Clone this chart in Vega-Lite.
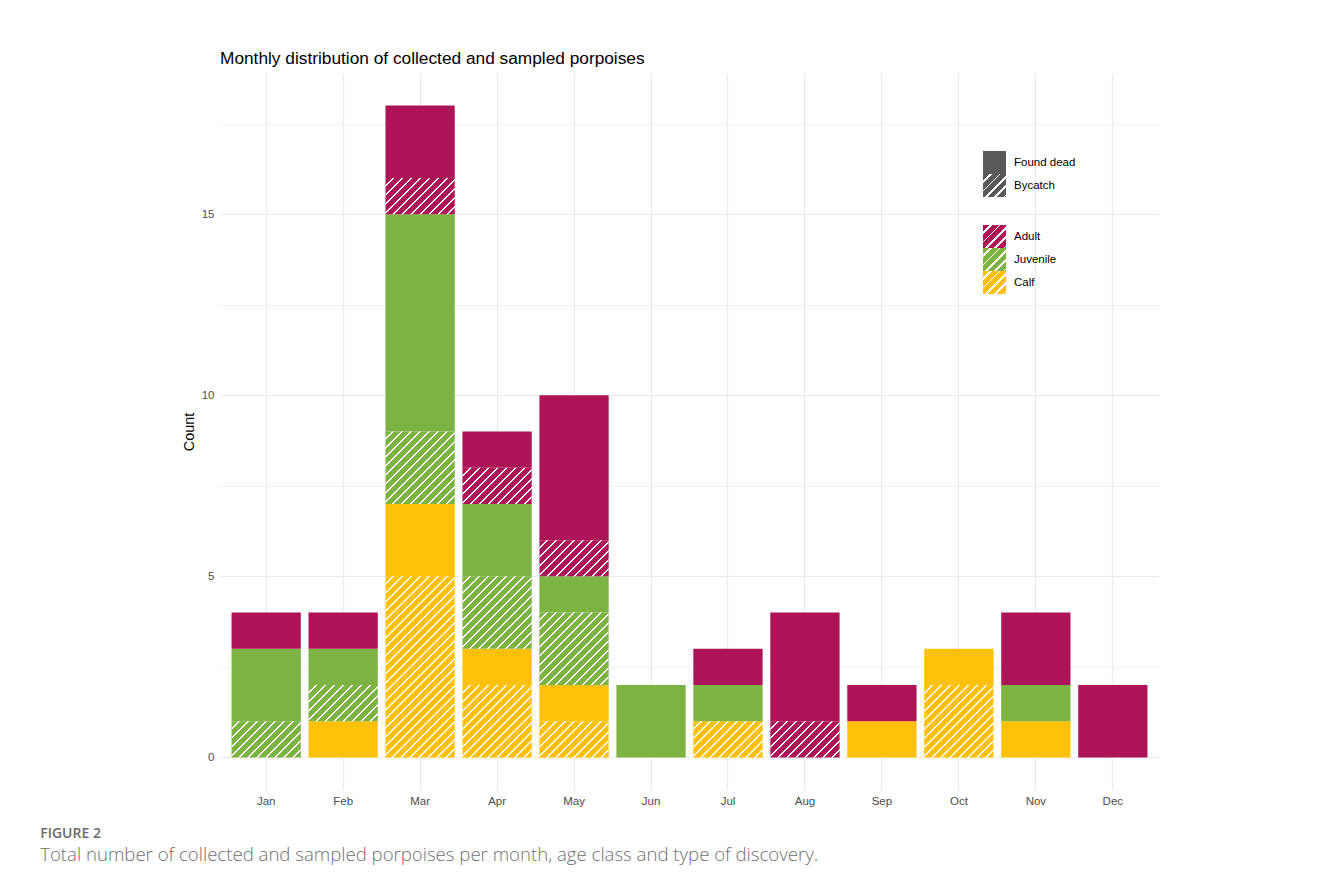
{
  "$schema": "https://vega.github.io/schema/vega-lite/v6.json",
  "background": "#ffffff",
  "padding": {"left": 40, "top": 49, "right": 0, "bottom": 0},
  "params": [
    {
      "name": "hatchStops",
      "value": [
        {"offset": 0, "color": "rgba(255,255,255,0)"}, {"offset": 0.023, "color": "rgba(255,255,255,0)"}, {"offset": 0.023, "color": "#ffffff"}, {"offset": 0.03, "color": "#ffffff"},
        {"offset": 0.03, "color": "rgba(255,255,255,0)"}, {"offset": 0.053, "color": "rgba(255,255,255,0)"}, {"offset": 0.053, "color": "#ffffff"}, {"offset": 0.06, "color": "#ffffff"},
        {"offset": 0.06, "color": "rgba(255,255,255,0)"}, {"offset": 0.083, "color": "rgba(255,255,255,0)"}, {"offset": 0.083, "color": "#ffffff"}, {"offset": 0.09, "color": "#ffffff"},
        {"offset": 0.09, "color": "rgba(255,255,255,0)"}, {"offset": 0.113, "color": "rgba(255,255,255,0)"}, {"offset": 0.113, "color": "#ffffff"}, {"offset": 0.12, "color": "#ffffff"},
        {"offset": 0.12, "color": "rgba(255,255,255,0)"}, {"offset": 0.143, "color": "rgba(255,255,255,0)"}, {"offset": 0.143, "color": "#ffffff"}, {"offset": 0.15, "color": "#ffffff"},
        {"offset": 0.15, "color": "rgba(255,255,255,0)"}, {"offset": 0.173, "color": "rgba(255,255,255,0)"}, {"offset": 0.173, "color": "#ffffff"}, {"offset": 0.18, "color": "#ffffff"},
        {"offset": 0.18, "color": "rgba(255,255,255,0)"}, {"offset": 0.203, "color": "rgba(255,255,255,0)"}, {"offset": 0.203, "color": "#ffffff"}, {"offset": 0.21, "color": "#ffffff"},
        {"offset": 0.21, "color": "rgba(255,255,255,0)"}, {"offset": 0.233, "color": "rgba(255,255,255,0)"}, {"offset": 0.233, "color": "#ffffff"}, {"offset": 0.24, "color": "#ffffff"},
        {"offset": 0.24, "color": "rgba(255,255,255,0)"}, {"offset": 0.263, "color": "rgba(255,255,255,0)"}, {"offset": 0.263, "color": "#ffffff"}, {"offset": 0.27, "color": "#ffffff"},
        {"offset": 0.27, "color": "rgba(255,255,255,0)"}, {"offset": 0.293, "color": "rgba(255,255,255,0)"}, {"offset": 0.293, "color": "#ffffff"}, {"offset": 0.3, "color": "#ffffff"},
        {"offset": 0.3, "color": "rgba(255,255,255,0)"}, {"offset": 0.323, "color": "rgba(255,255,255,0)"}, {"offset": 0.323, "color": "#ffffff"}, {"offset": 0.33, "color": "#ffffff"},
        {"offset": 0.33, "color": "rgba(255,255,255,0)"}, {"offset": 0.353, "color": "rgba(255,255,255,0)"}, {"offset": 0.353, "color": "#ffffff"}, {"offset": 0.36, "color": "#ffffff"},
        {"offset": 0.36, "color": "rgba(255,255,255,0)"}, {"offset": 0.383, "color": "rgba(255,255,255,0)"}, {"offset": 0.383, "color": "#ffffff"}, {"offset": 0.39, "color": "#ffffff"},
        {"offset": 0.39, "color": "rgba(255,255,255,0)"}, {"offset": 0.413, "color": "rgba(255,255,255,0)"}, {"offset": 0.413, "color": "#ffffff"}, {"offset": 0.42, "color": "#ffffff"},
        {"offset": 0.42, "color": "rgba(255,255,255,0)"}, {"offset": 0.443, "color": "rgba(255,255,255,0)"}, {"offset": 0.443, "color": "#ffffff"}, {"offset": 0.45, "color": "#ffffff"},
        {"offset": 0.45, "color": "rgba(255,255,255,0)"}, {"offset": 0.473, "color": "rgba(255,255,255,0)"}, {"offset": 0.473, "color": "#ffffff"}, {"offset": 0.48, "color": "#ffffff"},
        {"offset": 0.48, "color": "rgba(255,255,255,0)"}, {"offset": 0.503, "color": "rgba(255,255,255,0)"}, {"offset": 0.503, "color": "#ffffff"}, {"offset": 0.51, "color": "#ffffff"},
        {"offset": 0.51, "color": "rgba(255,255,255,0)"}, {"offset": 0.533, "color": "rgba(255,255,255,0)"}, {"offset": 0.533, "color": "#ffffff"}, {"offset": 0.54, "color": "#ffffff"},
        {"offset": 0.54, "color": "rgba(255,255,255,0)"}, {"offset": 0.563, "color": "rgba(255,255,255,0)"}, {"offset": 0.563, "color": "#ffffff"}, {"offset": 0.57, "color": "#ffffff"},
        {"offset": 0.57, "color": "rgba(255,255,255,0)"}, {"offset": 0.593, "color": "rgba(255,255,255,0)"}, {"offset": 0.593, "color": "#ffffff"}, {"offset": 0.6, "color": "#ffffff"},
        {"offset": 0.6, "color": "rgba(255,255,255,0)"}, {"offset": 0.623, "color": "rgba(255,255,255,0)"}, {"offset": 0.623, "color": "#ffffff"}, {"offset": 0.63, "color": "#ffffff"},
        {"offset": 0.63, "color": "rgba(255,255,255,0)"}, {"offset": 0.653, "color": "rgba(255,255,255,0)"}, {"offset": 0.653, "color": "#ffffff"}, {"offset": 0.66, "color": "#ffffff"},
        {"offset": 0.66, "color": "rgba(255,255,255,0)"}, {"offset": 0.683, "color": "rgba(255,255,255,0)"}, {"offset": 0.683, "color": "#ffffff"}, {"offset": 0.69, "color": "#ffffff"},
        {"offset": 0.69, "color": "rgba(255,255,255,0)"}, {"offset": 0.713, "color": "rgba(255,255,255,0)"}, {"offset": 0.713, "color": "#ffffff"}, {"offset": 0.72, "color": "#ffffff"},
        {"offset": 0.72, "color": "rgba(255,255,255,0)"}, {"offset": 0.743, "color": "rgba(255,255,255,0)"}, {"offset": 0.743, "color": "#ffffff"}, {"offset": 0.75, "color": "#ffffff"},
        {"offset": 0.75, "color": "rgba(255,255,255,0)"}, {"offset": 0.773, "color": "rgba(255,255,255,0)"}, {"offset": 0.773, "color": "#ffffff"}, {"offset": 0.78, "color": "#ffffff"},
        {"offset": 0.78, "color": "rgba(255,255,255,0)"}, {"offset": 0.803, "color": "rgba(255,255,255,0)"}, {"offset": 0.803, "color": "#ffffff"}, {"offset": 0.81, "color": "#ffffff"},
        {"offset": 0.81, "color": "rgba(255,255,255,0)"}, {"offset": 0.833, "color": "rgba(255,255,255,0)"}, {"offset": 0.833, "color": "#ffffff"}, {"offset": 0.84, "color": "#ffffff"},
        {"offset": 0.84, "color": "rgba(255,255,255,0)"}, {"offset": 1, "color": "rgba(255,255,255,0)"}
      ]
    }
  ],
  "title": {
    "text": "FIGURE 2",
    "subtitle": "Total number of collected and sampled porpoises per month, age class and type of discovery.",
    "orient": "bottom",
    "anchor": "start",
    "frame": "bounds",
    "dx": -141,
    "offset": 20,
    "font": "Open Sans",
    "fontSize": 14,
    "fontWeight": 600,
    "color": "#6b6b6b",
    "subtitleFont": "Open Sans",
    "subtitleFontSize": 18.6,
    "subtitleFontWeight": 300,
    "subtitleColor": "#707070",
    "subtitlePadding": 5
  },
  "vconcat": [
    {
      "title": {
        "text": "Monthly distribution of collected and sampled porpoises",
        "anchor": "start",
        "frame": "group",
        "font": "Liberation Sans",
        "fontSize": 17.3,
        "fontWeight": "normal",
        "color": "#000000",
        "baseline": "alphabetic",
        "offset": -8
      },
      "width": 939,
      "height": 717,
      "data": {
        "values": [
          {"month": "Jan", "age": "Juvenile", "type": "Bycatch", "count": 1},
          {"month": "Jan", "age": "Juvenile", "type": "Found dead", "count": 2},
          {"month": "Jan", "age": "Adult", "type": "Found dead", "count": 1},
          {"month": "Feb", "age": "Calf", "type": "Found dead", "count": 1},
          {"month": "Feb", "age": "Juvenile", "type": "Bycatch", "count": 1},
          {"month": "Feb", "age": "Juvenile", "type": "Found dead", "count": 1},
          {"month": "Feb", "age": "Adult", "type": "Found dead", "count": 1},
          {"month": "Mar", "age": "Calf", "type": "Bycatch", "count": 5},
          {"month": "Mar", "age": "Calf", "type": "Found dead", "count": 2},
          {"month": "Mar", "age": "Juvenile", "type": "Bycatch", "count": 2},
          {"month": "Mar", "age": "Juvenile", "type": "Found dead", "count": 6},
          {"month": "Mar", "age": "Adult", "type": "Bycatch", "count": 1},
          {"month": "Mar", "age": "Adult", "type": "Found dead", "count": 2},
          {"month": "Apr", "age": "Calf", "type": "Bycatch", "count": 2},
          {"month": "Apr", "age": "Calf", "type": "Found dead", "count": 1},
          {"month": "Apr", "age": "Juvenile", "type": "Bycatch", "count": 2},
          {"month": "Apr", "age": "Juvenile", "type": "Found dead", "count": 2},
          {"month": "Apr", "age": "Adult", "type": "Bycatch", "count": 1},
          {"month": "Apr", "age": "Adult", "type": "Found dead", "count": 1},
          {"month": "May", "age": "Calf", "type": "Bycatch", "count": 1},
          {"month": "May", "age": "Calf", "type": "Found dead", "count": 1},
          {"month": "May", "age": "Juvenile", "type": "Bycatch", "count": 2},
          {"month": "May", "age": "Juvenile", "type": "Found dead", "count": 1},
          {"month": "May", "age": "Adult", "type": "Bycatch", "count": 1},
          {"month": "May", "age": "Adult", "type": "Found dead", "count": 4},
          {"month": "Jun", "age": "Juvenile", "type": "Found dead", "count": 2},
          {"month": "Jul", "age": "Calf", "type": "Bycatch", "count": 1},
          {"month": "Jul", "age": "Juvenile", "type": "Found dead", "count": 1},
          {"month": "Jul", "age": "Adult", "type": "Found dead", "count": 1},
          {"month": "Aug", "age": "Adult", "type": "Bycatch", "count": 1},
          {"month": "Aug", "age": "Adult", "type": "Found dead", "count": 3},
          {"month": "Sep", "age": "Calf", "type": "Found dead", "count": 1},
          {"month": "Sep", "age": "Adult", "type": "Found dead", "count": 1},
          {"month": "Oct", "age": "Calf", "type": "Bycatch", "count": 2},
          {"month": "Oct", "age": "Calf", "type": "Found dead", "count": 1},
          {"month": "Nov", "age": "Calf", "type": "Found dead", "count": 1},
          {"month": "Nov", "age": "Juvenile", "type": "Found dead", "count": 1},
          {"month": "Nov", "age": "Adult", "type": "Found dead", "count": 2},
          {"month": "Dec", "age": "Adult", "type": "Found dead", "count": 2}
        ]
      },
      "transform": [
        {"window": [{"op": "row_number", "as": "row"}]}
      ],
      "encoding": {
        "x": {
          "field": "month",
          "type": "nominal",
          "sort": ["Jan", "Feb", "Mar", "Apr", "May", "Jun", "Jul", "Aug", "Sep", "Oct", "Nov", "Dec"],
          "scale": {"paddingInner": 0.1, "paddingOuter": 0.15},
          "axis": {
            "title": null,
            "labelAngle": 0,
            "ticks": false,
            "domain": false,
            "labelPadding": 5,
            "grid": true,
            "bandPosition": 0.5,
            "gridColor": "#ebebeb",
            "gridWidth": 1.2
          }
        },
        "y": {
          "field": "count",
          "type": "quantitative",
          "title": "Count",
          "scale": {"domain": [-0.9, 18.9], "nice": false, "zero": false},
          "axis": {
            "values": [0, 2.5, 5, 7.5, 10, 12.5, 15, 17.5],
            "labelExpr": "datum.value % 5 === 0 ? datum.label : ''",
            "ticks": false,
            "domain": false,
            "labelPadding": 6,
            "titlePadding": 5,
            "grid": true,
            "gridColor": "#ebebeb",
            "gridWidth": {"condition": {"test": "datum.value % 5 !== 0", "value": 0.7}, "value": 1.2}
          }
        },
        "order": {"field": "row", "type": "quantitative"}
      },
      "layer": [
        {
          "mark": {"type": "bar", "strokeWidth": 0},
          "encoding": {
            "color": {
              "field": "age",
              "type": "nominal",
              "sort": ["Adult", "Juvenile", "Calf"],
              "scale": {"range": ["#AD1457", "#7CB342", "#FFC107"]},
              "legend": null
            },
            "stroke": {
              "field": "age",
              "type": "nominal",
              "scale": {"domain": ["Adult", "Juvenile", "Calf"], "range": ["#AD1457", "#7CB342", "#FFC107"]},
              "legend": {
                "orient": "none",
                "legendX": 763,
                "legendY": 152,
                "title": null,
                "symbolType": "square",
                "symbolSize": 529,
                "rowPadding": 0,
                "labelOffset": 8,
                "padding": 0,
                "symbolStrokeWidth": 0,
                "symbolOpacity": 1,
                "symbolFillColor": {"expr": "{gradient:'linear',x1:0,y1:0,x2:1,y2:1,stops:[{offset:0,color:(datum.value==='Adult'?'#AD1457':datum.value==='Juvenile'?'#7CB342':'#FFC107')},{offset:0.152,color:(datum.value==='Adult'?'#AD1457':datum.value==='Juvenile'?'#7CB342':'#FFC107')},{offset:0.152,color:'#ffffff'},{offset:0.196,color:'#ffffff'},{offset:0.196,color:(datum.value==='Adult'?'#AD1457':datum.value==='Juvenile'?'#7CB342':'#FFC107')},{offset:0.348,color:(datum.value==='Adult'?'#AD1457':datum.value==='Juvenile'?'#7CB342':'#FFC107')},{offset:0.348,color:'#ffffff'},{offset:0.391,color:'#ffffff'},{offset:0.391,color:(datum.value==='Adult'?'#AD1457':datum.value==='Juvenile'?'#7CB342':'#FFC107')},{offset:0.543,color:(datum.value==='Adult'?'#AD1457':datum.value==='Juvenile'?'#7CB342':'#FFC107')},{offset:0.543,color:'#ffffff'},{offset:0.587,color:'#ffffff'},{offset:0.587,color:(datum.value==='Adult'?'#AD1457':datum.value==='Juvenile'?'#7CB342':'#FFC107')},{offset:0.739,color:(datum.value==='Adult'?'#AD1457':datum.value==='Juvenile'?'#7CB342':'#FFC107')},{offset:0.739,color:'#ffffff'},{offset:0.783,color:'#ffffff'},{offset:0.783,color:(datum.value==='Adult'?'#AD1457':datum.value==='Juvenile'?'#7CB342':'#FFC107')},{offset:0.935,color:(datum.value==='Adult'?'#AD1457':datum.value==='Juvenile'?'#7CB342':'#FFC107')},{offset:0.935,color:'#ffffff'},{offset:0.978,color:'#ffffff'},{offset:0.978,color:(datum.value==='Adult'?'#AD1457':datum.value==='Juvenile'?'#7CB342':'#FFC107')},{offset:1,color:(datum.value==='Adult'?'#AD1457':datum.value==='Juvenile'?'#7CB342':'#FFC107')}]}"}
              }
            },
            "strokeDash": {
              "field": "type",
              "type": "nominal",
              "scale": {"domain": ["Found dead", "Bycatch"]},
              "legend": {
                "orient": "none",
                "legendX": 763,
                "legendY": 78,
                "title": null,
                "symbolType": "square",
                "symbolSize": 529,
                "rowPadding": 0,
                "labelOffset": 8,
                "padding": 0,
                "symbolStrokeWidth": 0,
                "symbolOpacity": 1,
                "symbolFillColor": {"expr": "datum.value === 'Bycatch' ? {gradient:'linear',x1:0,y1:0,x2:1,y2:1,stops:[{offset:0,color:'#595959'},{offset:0.152,color:'#595959'},{offset:0.152,color:'#ffffff'},{offset:0.196,color:'#ffffff'},{offset:0.196,color:'#595959'},{offset:0.348,color:'#595959'},{offset:0.348,color:'#ffffff'},{offset:0.391,color:'#ffffff'},{offset:0.391,color:'#595959'},{offset:0.543,color:'#595959'},{offset:0.543,color:'#ffffff'},{offset:0.587,color:'#ffffff'},{offset:0.587,color:'#595959'},{offset:0.739,color:'#595959'},{offset:0.739,color:'#ffffff'},{offset:0.783,color:'#ffffff'},{offset:0.783,color:'#595959'},{offset:0.935,color:'#595959'},{offset:0.935,color:'#ffffff'},{offset:0.978,color:'#ffffff'},{offset:0.978,color:'#595959'},{offset:1,color:'#595959'}]} : '#595959'"}
              }
            }
          }
        },
        {
          "mark": {
            "type": "bar",
            "strokeWidth": 0,
            "fill": {"expr": "datum.type === 'Bycatch' ? {gradient: 'linear', x1: 0, y1: 0, x2: 300 * 69.27 / (4798.3 + pow(datum.count * 36.21, 2)), y2: 300 * datum.count * 36.21 / (4798.3 + pow(datum.count * 36.21, 2)), stops: hatchStops} : 'rgba(0,0,0,0)'"}
          },
          "encoding": {}
        }
      ]
    }
  ],
  "config": {
    "view": {"stroke": null},
    "font": "Liberation Sans",
    "axis": {
      "labelFont": "Liberation Sans",
      "labelFontSize": 11.5,
      "labelColor": "#4d4d4d",
      "titleFont": "Liberation Sans",
      "titleFontSize": 14.4,
      "titleFontWeight": "normal",
      "titleColor": "#000000"
    },
    "legend": {
      "labelFont": "Liberation Sans",
      "labelFontSize": 11.5,
      "labelColor": "#000000"
    }
  }
}
